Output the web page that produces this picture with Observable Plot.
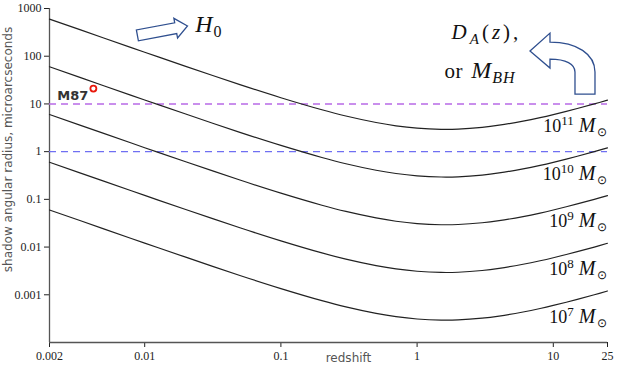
<!DOCTYPE html>
<html><head><meta charset="utf-8">
<script src="https://cdn.jsdelivr.net/npm/d3@7"></script>
<script src="https://cdn.jsdelivr.net/npm/@observablehq/plot@0.6"></script>
<style>body{margin:0;background:#fff} svg{display:block}</style>
</head><body><div id="chart"></div>
<script>
// Redshift sample points
const redshift = [0.002, 0.005, 0.01, 0.02, 0.05, 0.1, 0.2, 0.3, 0.5, 0.7, 1, 1.5, 2, 3, 4, 6, 8, 10, 15, 20, 25];
// Shadow angular radius (microarcseconds) for each black-hole mass
const radius_1e11 = [600, 241, 121, 61.4, 25.4, 13.5, 7.54, 5.58, 4.08, 3.48, 3.11, 2.94, 2.97, 3.23, 3.58, 4.36, 5.16, 5.98, 8.01, 10.0, 12.0];
const radius_1e10 = [60.0, 24.1, 12.1, 6.14, 2.54, 1.35, 0.754, 0.558, 0.408, 0.348, 0.311, 0.294, 0.297, 0.323, 0.358, 0.436, 0.516, 0.598, 0.801, 1.00, 1.20];
const radius_1e9 = [6.00, 2.41, 1.21, 0.614, 0.254, 0.135, 0.0754, 0.0558, 0.0408, 0.0348, 0.0311, 0.0294, 0.0297, 0.0323, 0.0358, 0.0436, 0.0516, 0.0598, 0.0801, 0.100, 0.120];
const radius_1e8 = [0.600, 0.241, 0.121, 0.0614, 0.0254, 0.0135, 0.00754, 0.00558, 0.00408, 0.00348, 0.00311, 0.00294, 0.00297, 0.00323, 0.00358, 0.00436, 0.00516, 0.00598, 0.00801, 0.0100, 0.0120];
const radius_1e7 = [0.0600, 0.0241, 0.0121, 0.00614, 0.00254, 0.00135, 0.000754, 0.000558, 0.000408, 0.000348, 0.000311, 0.000294, 0.000297, 0.000323, 0.000358, 0.000436, 0.000516, 0.000598, 0.000801, 0.00100, 0.00120];
const massExponents = ["11", "10", "9", "8", "7"];
const seriesList = [radius_1e11, radius_1e10, radius_1e9, radius_1e8, radius_1e7];

const xTicks = [0.002, 0.01, 0.1, 1, 10, 25];
const xTickLabels = ["0.002", "0.01", "0.1", "1", "10", "25"];
const yTicks = [0.001, 0.01, 0.1, 1, 10, 100, 1000];
const yTickLabels = ["0.001", "0.01", "0.1", "1", "10", "100", "1000"];
const thresholds = [10, 1];
const thresholdColors = ["#b86ae6", "#6f6ff2"];
const m87 = [{z: 0.0042, r: 21, name: "M87"}];

// Annotation anchors (data coordinates)
const h0Text = [{z: 0.0235, r: 477, key: "§H0"}];
const daText = [{z: 1.79, r: 325, key: "§DA"}, {z: 1.59, r: 49.4, key: "§MBH"}];
const h0ArrowTip = {z: 0.0208, r: 420};
const curvedArrowTip = {z: 6.8, r: 125};

const rows = [];
seriesList.forEach((vals, k) => vals.forEach((v, i) => rows.push({mass: massExponents[k], z: redshift[i], r: v})));
const labels = seriesList.map((vals, k) => ({key: "§" + massExponents[k], z: redshift[redshift.length - 1], r: vals[vals.length - 1]}));

const serif = "'Liberation Serif', 'Times New Roman', serif";
const sans = "'DejaVu Sans', sans-serif";

const plot = Plot.plot({
  width: 623, height: 384,
  marginLeft: 49, marginRight: 16, marginTop: 8, marginBottom: 42,
  style: {fontFamily: serif, fontSize: "12px", color: "#222", background: "#fff"},
  x: {type: "log", domain: [0.002, 25], ticks: xTicks, tickFormat: d => xTickLabels[xTicks.indexOf(d)], tickSize: 5, tickPadding: 4, label: null},
  y: {type: "log", domain: [1e-4, 1000], ticks: yTicks, tickFormat: d => yTickLabels[yTicks.indexOf(d)], tickSize: 5, tickPadding: 3, label: null},
  marks: [
    Plot.ruleX([0.002], {stroke: "#555", strokeWidth: 1.3}),
    Plot.ruleY([1e-4], {stroke: "#555", strokeWidth: 1.3}),
    Plot.ruleY(thresholds, {y: d => d, stroke: (d, i) => thresholdColors[i], strokeDasharray: "7,5", strokeWidth: 1.4}),
    Plot.line(rows, {x: "z", y: "r", z: "mass", stroke: "#222", strokeWidth: 1.2, curve: "catmull-rom"}),
    Plot.dot(m87, {x: "z", y: "r", r: 3, stroke: "#e8180c", strokeWidth: 1.8, fill: "white"}),
    Plot.text(m87, {x: "z", y: "r", text: "name", dx: -5, dy: 7, textAnchor: "end", fontFamily: sans, fontWeight: "bold", fontSize: 13, fill: "#333"}),
    Plot.text(labels, {x: "z", y: "r", text: "key", dy: 26, dx: -1, textAnchor: "end", fontSize: 18, fill: "#111"}),
    Plot.text(h0Text, {x: "z", y: "r", text: "key", textAnchor: "start", fontSize: 24, fill: "#111"}),
    Plot.text(daText, {x: "z", y: "r", text: "key", textAnchor: "start", fontSize: 21, fill: "#111"}),
    Plot.text(["redshift"], {frameAnchor: "bottom", dx: 20, dy: 19, fontFamily: sans, fontSize: 12, fill: "#555"}),
    Plot.text(["shadow angular radius, microarcseconds"], {frameAnchor: "left", textAnchor: "middle", rotate: -90, dx: -41, dy: -26, fontFamily: sans, fontSize: 12, fill: "#555"})
  ]
});
document.getElementById("chart").appendChild(plot);

function rich(el, parts, spacing) {
  const t = d3.select(el);
  t.text(null);
  for (const p of parts) {
    t.append("tspan")
      .attr("dy", p.dy || 0)
      .attr("font-size", p.size)
      .attr("font-style", p.it ? "italic" : null)
      .attr("letter-spacing", p.ls || spacing || null)
      .text(p.s);
  }
}
d3.select(plot).selectAll("text").each(function () {
  const s = this.textContent;
  if (!s.startsWith("§")) return;
  const key = s.slice(1);
  if (massExponents.includes(key)) {
    rich(this, [{s: "10", size: 18}, {s: key, size: 13, dy: -7}, {s: "\u2009M", size: 20, it: true, dy: 7, ls: "1px"}, {s: "\u2299", size: 12, dy: 4}]);
  } else if (key === "H0") {
    rich(this, [{s: "H", size: 24, it: true}, {s: "0", size: 16, dy: 5}], "1px");
  } else if (key === "DA") {
    rich(this, [{s: "D", size: 21, it: true}, {s: "A", size: 15, it: true, dy: 5}, {s: "(", size: 21, dy: -5}, {s: "z", size: 21, it: true}, {s: "),", size: 21}], "3px");
  } else if (key === "MBH") {
    rich(this, [{s: "or", size: 21, ls: "0.5px"}, {s: "\u2009", size: 21, ls: "4px"}, {s: "M", size: 24, it: true, ls: "1px"}, {s: "BH", size: 16, it: true, dy: 5, ls: "1px"}]);
  }
});

// Arrow annotations anchored through the plot's scales
const sx = plot.scale("x"), sy = plot.scale("y");
const svg = d3.select(plot);
const tip1 = [sx.apply(h0ArrowTip.z), sy.apply(h0ArrowTip.r)];
svg.append("path")
  .attr("d", "M0,0 L-12,-10 L-12,-5.5 L-51,-5.5 L-51,5.5 L-12,5.5 L-12,10 Z")
  .attr("transform", `translate(${tip1[0]},${tip1[1]}) rotate(-10.6)`)
  .attr("fill", "white").attr("stroke", "#2f4f8f").attr("stroke-width", 1.3).attr("stroke-linejoin", "miter");
const tip2 = [sx.apply(curvedArrowTip.z), sy.apply(curvedArrowTip.r)];
svg.append("path")
  .attr("d", "M0,0 L20,-18 L20,-9 C47,-9 65,3 65,21 L65,43 L45,43 L45,21 C45,13 36,8 20,8 L20,17 Z")
  .attr("transform", `translate(${tip2[0]},${tip2[1]})`)
  .attr("fill", "white").attr("stroke", "#2f4f8f").attr("stroke-width", 1.3);
</script>
</body></html>
